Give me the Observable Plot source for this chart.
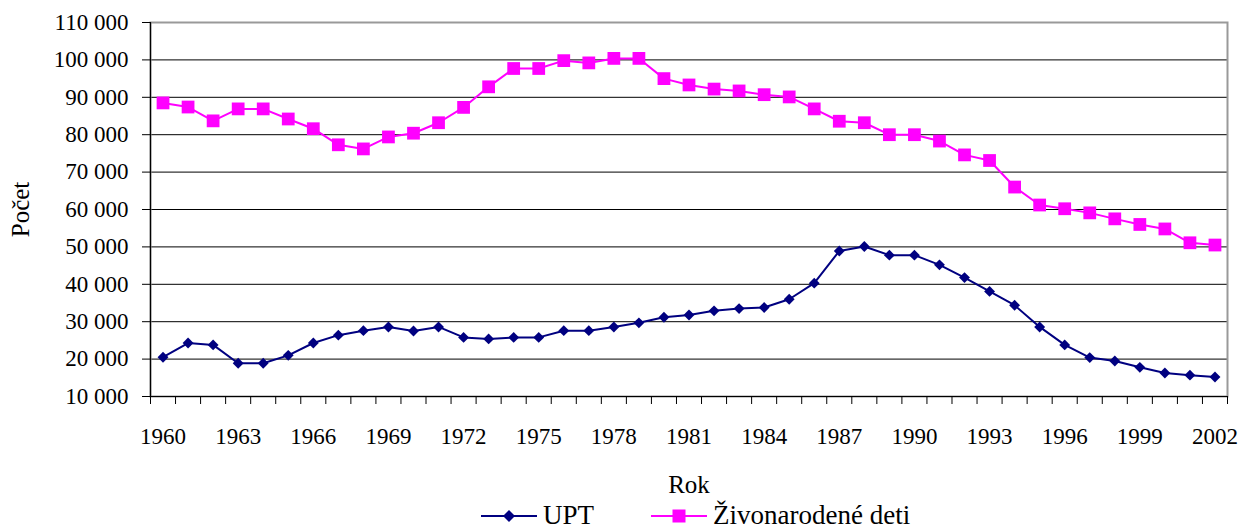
<!DOCTYPE html>
<html>
<head>
<meta charset="utf-8">
<script src="https://cdn.jsdelivr.net/npm/d3@7"></script>
<script src="https://cdn.jsdelivr.net/npm/@observablehq/plot@0.6"></script>
<style>
  html, body { margin: 0; padding: 0; background: #fff; }
  #chart svg { display: block; }
  #legend { height: 31px; position: relative; font-family: "Liberation Serif", serif; font-size: 27px; color: #000; }
  .item { position: absolute; top: 0; height: 31px; display: flex; align-items: center; }
  .item svg { display: block; margin-right: 6px; }
</style>
</head>
<body>
<div id="chart"></div>
<div id="legend"></div>
<script>
const years = d3.range(1960, 2003);
const upt = [20500, 24300, 23800, 18900, 18900, 21000, 24300, 26400, 27600, 28600,
             27500, 28600, 25800, 25400, 25800, 25800, 27600, 27600, 28600, 29700,
             31200, 31800, 32900, 33500, 33800, 36000, 40300, 48900, 50100, 47800,
             47800, 45200, 41800, 38100, 34400, 28600, 23800, 20400, 19500, 17800,
             16300, 15700, 15200];
const zivo = [88500, 87400, 83700, 86900, 86900, 84200, 81600, 77300, 76200, 79400,
              80400, 83200, 87300, 92800, 97700, 97700, 99800, 99200, 100400, 100400,
              95000, 93300, 92200, 91700, 90700, 90100, 86900, 83600, 83200, 80000,
              80000, 78300, 74600, 73100, 66000, 61200, 60200, 59100, 57500, 56000,
              54800, 51100, 50500];
const seriesNames = ["UPT", "Živonarodené deti"];
const seriesColors = ["#000080", "#FF00FF"];
const yTicks = d3.range(10000, 110001, 10000);
const xLabelTicks = d3.range(1960, 2003, 3);
const xBoundaries = d3.range(1959.5, 2003, 1);

const dataUpt = years.map((y, i) => ({year: y, value: upt[i]}));
const dataZivo = years.map((y, i) => ({year: y, value: zivo[i]}));

const fmt = d => d3.format(",")(d).replace(/,/g, " ");
const FONT = '"Liberation Serif", serif';

const plot = Plot.plot({
  width: 1248,
  height: 500,
  marginLeft: 150,
  marginRight: 21,
  marginTop: 22,
  marginBottom: 104,
  style: {fontFamily: FONT, fontSize: "23px", color: "#000", background: "#fff"},
  x: {domain: [1959.5, 2002.5], labelArrow: "none"},
  y: {domain: [10000, 110000], labelArrow: "none"},
  marks: [
    Plot.gridY(yTicks.filter(t => t > 10000 && t < 110000), {stroke: "#000", strokeOpacity: 1, strokeWidth: 1}),
    Plot.frame({stroke: "#999", strokeWidth: 2}),
    Plot.ruleY([10000], {stroke: "#000", strokeWidth: 1.2}),
    Plot.ruleX([1959.5], {stroke: "#000", strokeWidth: 1.2}),
    Plot.axisY({ticks: yTicks, tickFormat: fmt, tickSize: 8, tickPadding: 14, label: null, fontSize: 23}),
    Plot.axisY({ticks: [], label: "Počet", labelArrow: "none", labelAnchor: "center", labelOffset: 139, fontSize: 25}),
    Plot.axisX({ticks: xBoundaries, tickFormat: () => "", tickSize: 8, label: null}),
    Plot.axisX({ticks: xLabelTicks, tickFormat: d => String(d), tickSize: 0, tickPadding: 31, label: null, fontSize: 23}),
    Plot.axisX({ticks: [], label: "Rok", labelArrow: "none", labelAnchor: "center", labelOffset: 96, fontSize: 25}),
    Plot.line(dataUpt, {x: "year", y: "value", stroke: seriesColors[0], strokeWidth: 2}),
    Plot.dot(dataUpt, {x: "year", y: "value", symbol: "diamond2", r: 4.9, fill: seriesColors[0], stroke: "none"}),
    Plot.line(dataZivo, {x: "year", y: "value", stroke: seriesColors[1], strokeWidth: 2}),
    Plot.dot(dataZivo, {x: "year", y: "value", symbol: "square", r: 7.2, fill: seriesColors[1], stroke: "none"})
  ]
});
document.getElementById("chart").appendChild(plot);

// Legend
const legend = document.getElementById("legend");
const positions = [481, 651];
const shapes = [
  '<path d="M28,0 L34,6 L28,12 L22,6 Z" transform="translate(0,3)"/>',
  '<rect x="21.5" y="2.5" width="13" height="13"/>'
];
seriesNames.forEach((name, i) => {
  const item = document.createElement("div");
  item.className = "item";
  item.style.left = positions[i] + "px";
  item.innerHTML = `<svg width="56" height="18" viewBox="0 0 56 18">
      <line x1="0" y1="9" x2="56" y2="9" stroke="${seriesColors[i]}" stroke-width="2"/>
      <g fill="${seriesColors[i]}">${shapes[i]}</g></svg><span>${name}</span>`;
  legend.appendChild(item);
});
</script>
</body>
</html>
